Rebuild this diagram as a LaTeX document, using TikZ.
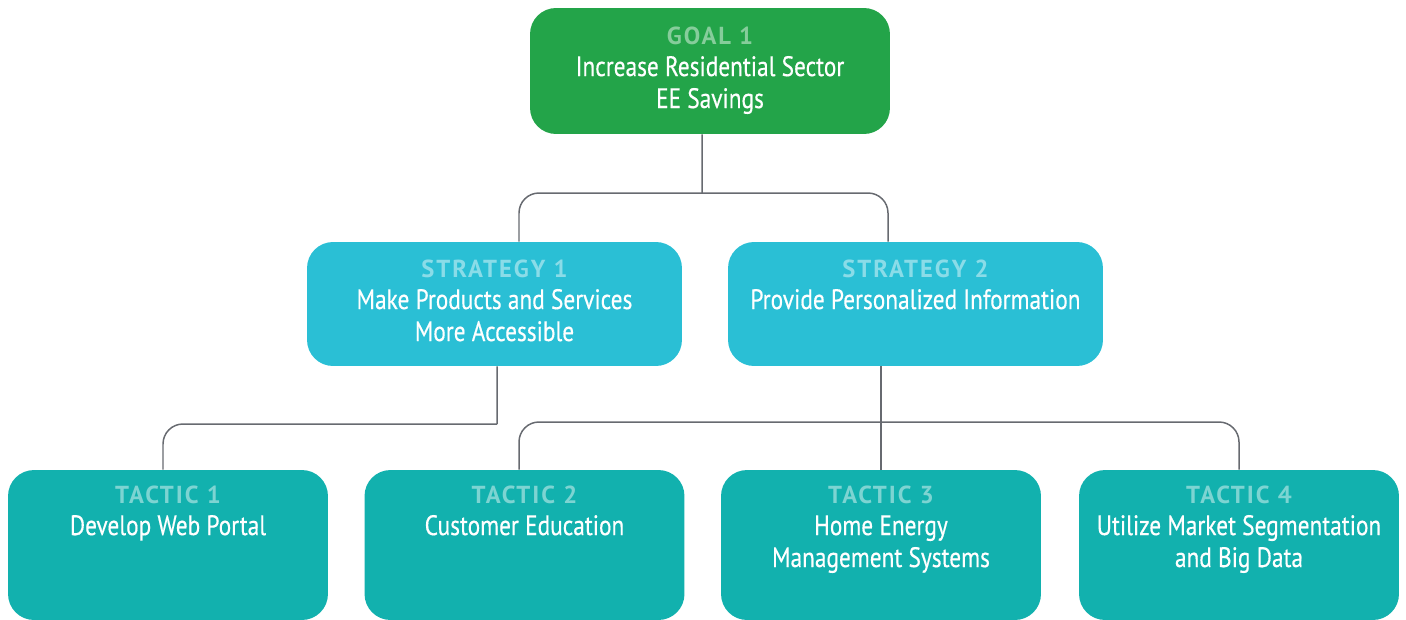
\documentclass[tikz,border=0pt]{standalone}
\usepackage{fontspec}
\setmainfont{PT Sans}[FakeStretch=0.83, FakeBold=0.4]
\newfontfamily\headfont{PT Sans}[LetterSpace=8]
\usetikzlibrary{positioning}
\definecolor{goalgreen}{HTML}{23A449}
\definecolor{stratblue}{HTML}{2ABFD5}
\definecolor{tacticteal}{HTML}{12B1AE}
\definecolor{linkgray}{HTML}{676A70}
\newcommand{\head}[1]{{\headfont\bfseries\fontsize{14}{18.2}\selectfont #1}}

\begin{document}
\begin{tikzpicture}[x=0.02cm, y=-0.02cm,
	box/.style={rectangle, rounded corners=0.52cm, inner sep=0},
	goalbox/.style={box, fill=goalgreen, minimum width=7.2cm, minimum height=2.52cm},
	stratbox/.style={box, fill=stratblue, minimum width=7.5cm, minimum height=2.48cm},
	tacticbox/.style={box, fill=tacticteal, minimum width=6.4cm, minimum height=3cm},
	txt/.style={align=center, inner sep=0, text=white, font=\fontsize{16}{18.2}\selectfont},
	link/.style={draw=linkgray, line width=0.85pt, rounded corners=0.4cm}]
	\useasboundingbox (0,0) rectangle (1406,619);
	% boxes
	\node[goalbox] (goal) at (710,71) {};
	\node[stratbox] (s1) at (494.5,304) {};
	\node[stratbox] (s2) at (915.5,304) {};
	\node[tacticbox] (t1) at (168,545) {};
	\node[tacticbox] (t2) at (524.5,545) {};
	\node[tacticbox] (t3) at (881,545) {};
	\node[tacticbox] (t4) at (1239,545) {};
	% texts
	\node[txt, below=0.37cm of goal.north] (goaltxt)
		{\head{\color{goalgreen!55!white}GOAL 1}\\Increase Residential Sector\\EE Savings};
	\node[txt, below=0.35cm of s1.north] (s1txt)
		{\head{\color{stratblue!55!white}STRATEGY 1}\\Make Products and Services\\More Accessible};
	\node[txt, below=0.35cm of s2.north] (s2txt)
		{\head{\color{stratblue!55!white}STRATEGY 2}\\Provide Personalized Information};
	\node[txt, below=0.31cm of t1.north] (t1txt)
		{\head{\color{tacticteal!55!white}TACTIC 1}\\Develop Web Portal};
	\node[txt, below=0.31cm of t2.north] (t2txt)
		{\head{\color{tacticteal!55!white}TACTIC 2}\\Customer Education};
	\node[txt, below=0.31cm of t3.north] (t3txt)
		{\head{\color{tacticteal!55!white}TACTIC 3}\\Home Energy\\Management Systems};
	\node[txt, below=0.31cm of t4.north] (t4txt)
		{\head{\color{tacticteal!55!white}TACTIC 4}\\Utilize Market Segmentation\\and Big Data};
	% connectors
	\coordinate (hubg) at (702,193);
	\coordinate (hubs1) at (497,424);
	\coordinate (hubs2) at (881,422);
	\draw[link] ([xshift=-0.16cm]goal.south) -- (hubg);
	\draw[link] ([xshift=0.49cm]s1.north) |- (hubg) -| ([xshift=-0.55cm]s2.north);
	\draw[link, sharp corners] ([xshift=0.05cm]s1.south) -- (hubs1);
	\draw[link] (hubs1) -| ([xshift=-0.1cm]t1.north);
	\draw[link] (t3.north |- s2.south) -- (t3.north);
	\draw[link] ([xshift=-0.11cm]t2.north) |- (hubs2) -| (t4.north);
\end{tikzpicture}
\end{document}
